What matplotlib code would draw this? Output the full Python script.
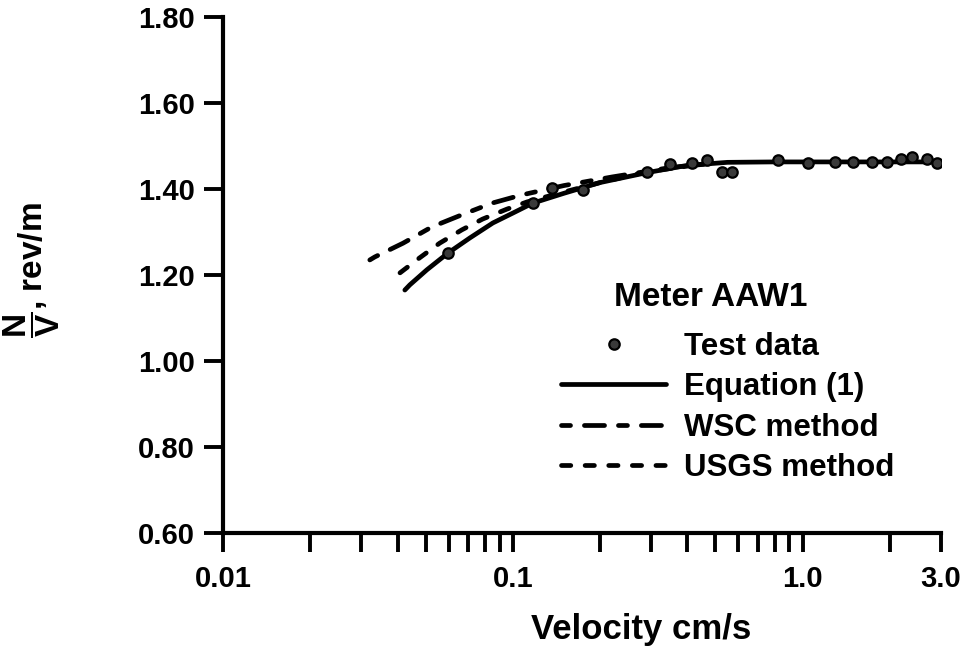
import matplotlib
matplotlib.use("Agg")
import matplotlib.pyplot as plt
from matplotlib.ticker import FixedLocator, NullFormatter, FuncFormatter

plt.rcParams["font.family"] = ["Liberation Sans", "DejaVu Sans"]
plt.rcParams["font.weight"] = "bold"
plt.rcParams["axes.labelweight"] = "bold"
plt.rcParams["mathtext.fontset"] = "custom"
plt.rcParams["mathtext.rm"] = "Liberation Sans:bold"
plt.rcParams["mathtext.it"] = "Liberation Sans:bold"
plt.rcParams["mathtext.bf"] = "Liberation Sans:bold"
plt.rcParams["lines.scale_dashes"] = False

# test data (velocity cm/s, N/V rev/m)
test_v = [0.0597, 0.117, 0.136, 0.174, 0.290, 0.348, 0.414, 0.467, 0.526, 0.569,
          0.820, 1.04, 1.29, 1.49, 1.74, 1.95, 2.19, 2.39, 2.68, 2.90]
test_nv = [1.251, 1.367, 1.402, 1.398, 1.440, 1.458, 1.460, 1.467, 1.440, 1.440,
           1.467, 1.460, 1.463, 1.463, 1.463, 1.463, 1.470, 1.474, 1.470, 1.460]

# curves, traced point by point
eq_v = [0.0424, 0.0441, 0.0505, 0.0597, 0.071, 0.0853, 0.10, 0.117, 0.15, 0.20,
        0.29, 0.40, 0.55, 0.80, 1.5, 2.95]
eq_nv = [1.165, 1.177, 1.212, 1.251, 1.286, 1.321, 1.344, 1.367, 1.390, 1.415,
         1.438, 1.455, 1.462, 1.463, 1.463, 1.463]

wsc_v = [0.0321, 0.0334, 0.0418, 0.0526, 0.0667, 0.0846, 0.107, 0.15, 0.22, 0.35, 0.50]
wsc_nv = [1.235, 1.242, 1.274, 1.312, 1.340, 1.367, 1.386, 1.408, 1.428, 1.450, 1.460]

usgs_v = [0.0408, 0.0477, 0.0559, 0.0667, 0.0786, 0.0952, 0.112, 0.15, 0.20, 0.29, 0.45]
usgs_nv = [1.205, 1.240, 1.274, 1.305, 1.330, 1.353, 1.370, 1.393, 1.415, 1.440, 1.458]

x_major = [0.01, 0.1, 1.0, 3.0]
x_major_labels = ["0.01", "0.1", "1.0", "3.0"]
x_minor = [0.02, 0.03, 0.04, 0.05, 0.06, 0.07, 0.08, 0.09,
           0.2, 0.3, 0.4, 0.5, 0.6, 0.7, 0.8, 0.9, 2.0]
y_ticks = [0.60, 0.80, 1.00, 1.20, 1.40, 1.60, 1.80]

fig = plt.figure(figsize=(9.68, 6.5), dpi=100)
ax = fig.add_axes([223 / 968, 1 - 533 / 650, 718 / 968, 516 / 650])

lw = 3.4
ax.plot(eq_v, eq_nv, color="black", lw=lw, solid_capstyle="round",
        label="Equation (1)", zorder=3)
ax.plot(wsc_v, wsc_nv, color="black", lw=lw, dashes=(6.5, 10, 14.5, 10),
        dash_capstyle="round", label="WSC method", zorder=2)
ax.plot(usgs_v, usgs_nv, color="black", lw=lw, dashes=(6.7, 10.3),
        dash_capstyle="round", label="USGS method", zorder=2)
ax.plot(test_v, test_nv, ls="none", marker="o", ms=7.5, mfc="#3a3a3a",
        mec="black", mew=1.6, label="Test data", zorder=4)

ax.set_xscale("log")
ax.set_xlim(0.01, 3.0)
ax.set_ylim(0.60, 1.80)

ax.xaxis.set_major_locator(FixedLocator(x_major))
ax.xaxis.set_major_formatter(FuncFormatter(lambda v, p: x_major_labels[x_major.index(v)]
                                           if v in x_major else ""))
ax.xaxis.set_minor_locator(FixedLocator(x_minor))
ax.xaxis.set_minor_formatter(NullFormatter())
ax.yaxis.set_major_locator(FixedLocator(y_ticks))
ax.yaxis.set_major_formatter(FuncFormatter(lambda v, p: f"{v:.2f}"))

for side in ("top", "right"):
    ax.spines[side].set_visible(False)
for side in ("left", "bottom"):
    ax.spines[side].set_linewidth(3.0)

ax.tick_params(axis="both", which="both", direction="out", length=14, width=2.8,
               labelsize=21, pad=6)
ax.tick_params(axis="x", which="major", pad=9)

ax.set_xlabel("Velocity cm/s", fontsize=25)
ax.xaxis.set_label_coords((641 - 223) / 718, -0.155)
ax.set_ylabel(r"$\dfrac{\mathrm{N}}{\mathrm{V}}$, rev/m", fontsize=24)
ax.yaxis.set_label_coords(-(223 - 62) / 718, 0.51)

h, l = ax.get_legend_handles_labels()
order = [3, 0, 1, 2]
leg = ax.legend([h[i] for i in order], [l[i] for i in order],
                frameon=False, fontsize=22.5, loc="upper left",
                bbox_to_anchor=(561 / 968, 1 - 332 / 650),
                bbox_transform=fig.transFigure, borderpad=0, borderaxespad=0,
                handlelength=3.36, handletextpad=0.58, labelspacing=0.33)
fig.text(711 / 968, 1 - 298 / 650, "Meter AAW1", fontsize=24, ha="center", va="center")

fig.savefig("out.png", dpi=100)
